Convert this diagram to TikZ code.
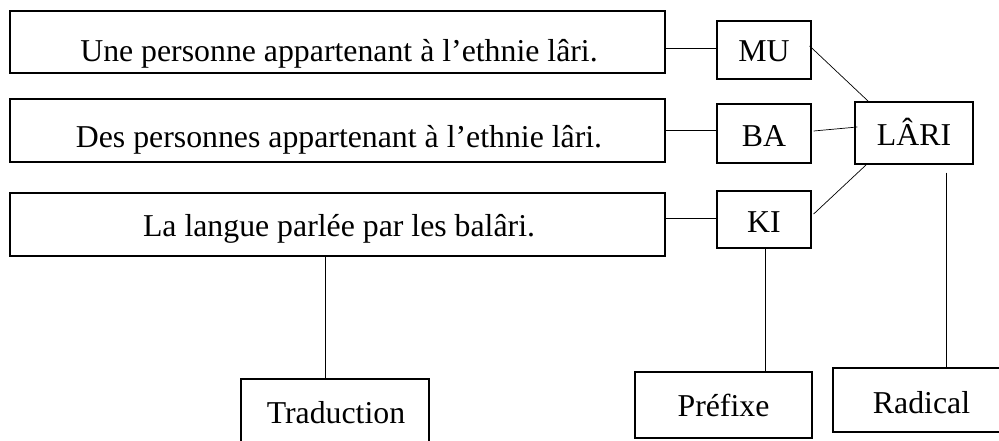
\documentclass[tikz,border=0pt]{standalone}
\usepackage{fontspec}
\setmainfont{Liberation Serif}
\usetikzlibrary{calc}
\begin{document}
\begin{tikzpicture}[x=1pt,y=-1pt,
  box/.style={draw=black,line width=1.3pt,inner sep=0pt},
  lbl/.style={inner sep=0pt,anchor=base,font=\fontsize{31.8}{36}\selectfont},
  link/.style={draw=black,line width=0.7pt}]
\useasboundingbox (0,0) rectangle (999,441);
\clip (0,0) rectangle (999,441);
% boxes
\node[box,minimum width=655,minimum height=62] (t1) at (337.5,42) {};
\node[box,minimum width=655,minimum height=63] (t2) at (337.5,130.5) {};
\node[box,minimum width=655,minimum height=63] (t3) at (337.5,224.5) {};
\node[box,minimum width=94,minimum height=58] (mu) at (764,50) {};
\node[box,minimum width=94,minimum height=59] (ba) at (764,133.5) {};
\node[box,minimum width=94,minimum height=57] (ki) at (764,219.5) {};
\node[box,minimum width=118,minimum height=62] (lari) at (914,133) {};
\node[box,minimum width=188,minimum height=68] (trad) at (335,413) {};
\node[box,minimum width=177,minimum height=66] (pref) at (723.5,405) {};
\node[box,minimum width=177,minimum height=64] (rad) at (921.5,400) {};
% texts
\node[lbl] (t1l) at (339,61.5) {Une personne appartenant à l’ethnie lâri.};
\node[lbl] (t2l) at (339,148) {Des personnes appartenant à l’ethnie lâri.};
\node[lbl] (t3l) at (339,236.5) {La langue parlée par les balâri.};
\node[lbl] (mul) at (764,62) {MU};
\node[lbl] (bal) at (764,147) {BA};
\node[lbl] (kil) at (764,232) {KI};
\node[lbl] (laril) at (914,146) {LÂRI};
\node[lbl] (tradl) at (336,423) {Traduction};
\node[lbl] (prefl) at (723.5,416) {Préfixe};
\node[lbl] (radl) at (921.5,413) {Radical};
% connectors
\coordinate (lfree) at ($(lari.south)+(32,8)$);
\draw[link] (t1.east |- 0,48) -- (mu.west |- 0,48);
\draw[link] (t2.east |- 0,130) -- (ba.west |- 0,130);
\draw[link] (t3.east |- 0,218) -- (ki.west |- 0,218);
\draw[link] ($(mu.east)+(-2,-4)$) -- ($(lari.north west)+(14,0)$);
\draw[link] ($(ba.east)+(2,-2.5)$) -- ($(lari.west)+(3,-6)$);
\draw[link] ($(ki.east)+(2,-5.5)$) -- ($(lari.south west)+(12,0)$);
\draw[link] (ki.south -| 765,0) -- (pref.north -| 765,0);
\draw[link] (lfree) -- (rad.north -| lfree);
\draw[link] (t3.south -| 325,0) -- (trad.north -| 325,0);
\end{tikzpicture}
\end{document}
